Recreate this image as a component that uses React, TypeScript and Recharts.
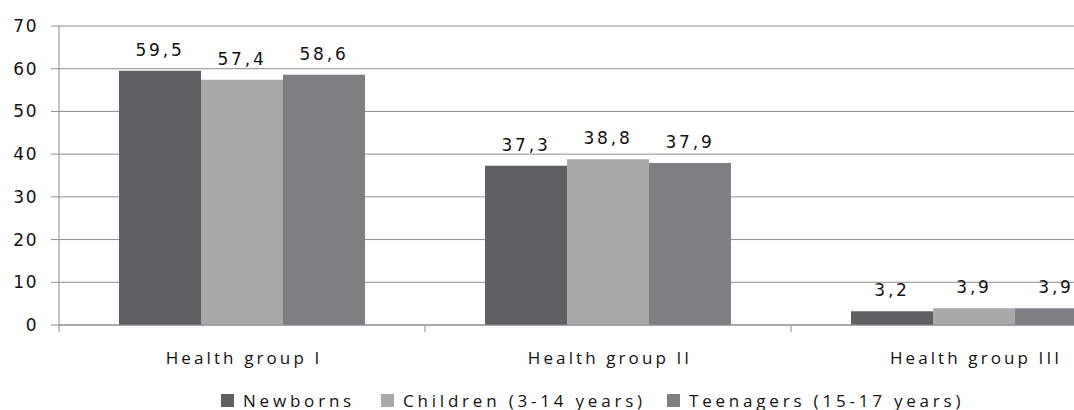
import React from "react";
import { BarChart, Bar, XAxis, YAxis, CartesianGrid, Legend, LabelList } from "recharts";

const categories = ["Health group I", "Health group II", "Health group III"];
const newborns = [59.5, 37.3, 3.2];
const children = [57.4, 38.8, 3.9];
const teenagers = [58.6, 37.9, 3.9];
const yTicks = [0, 10, 20, 30, 40, 50, 60, 70];

const seriesNames = ["Newborns", "Children (3-14 years)", "Teenagers (15-17 years)"];
const seriesColors = ["#5f6064", "#a8a9ab", "#7e7f83"];

const data = categories.map((c, i) => ({
  name: c,
  newborns: newborns[i],
  children: children[i],
  teenagers: teenagers[i],
}));

const valueFont = "'DejaVu Sans', Verdana, sans-serif";
const textFont = "'Open Sans', 'Liberation Sans', sans-serif";

const fmt = (v: number) => String(v).replace(".", ",");

const CategoryTick = (props: any) => {
  const { x, y, payload } = props;
  const off = payload.offset || 0;
  return (
    <g>
      <line x1={x - off} x2={x - off} y1={y} y2={y + 7} stroke="#8c8c8c" strokeWidth={1} />
      {payload.index === categories.length - 1 && (
        <line x1={x + off} x2={x + off} y1={y} y2={y + 7} stroke="#8c8c8c" strokeWidth={1} />
      )}
      <text
        x={x + 2}
        y={y + 39}
        textAnchor="middle"
        fill="#111"
        style={{ fontFamily: textFont, fontSize: 17, letterSpacing: 3.1 }}
      >
        {payload.value}
      </text>
    </g>
  );
};

const LegendContent = () => (
  <div style={{ position: "relative", height: 20, width: 1074 }}>
    {seriesNames.map((n, i) => {
      const lefts = [221, 381, 667];
      return (
        <div
          key={n}
          style={{
            position: "absolute",
            left: lefts[i],
            top: 0,
            display: "flex",
            alignItems: "center",
            height: 20,
            whiteSpace: "nowrap",
          }}
        >
          <span style={{ display: "inline-block", width: 13, height: 13, background: seriesColors[i], marginRight: 9 }} />
          <span style={{ fontFamily: textFont, fontSize: 17, letterSpacing: 3.8, color: "#111" }}>{n}</span>
        </div>
      );
    })}
  </div>
);

export default function App() {
  const keys = ["newborns", "children", "teenagers"];
  return (
    <div style={{ position: "absolute", left: 0, top: 0, width: 1074, height: 410, overflow: "hidden", background: "#fff" }}>
      <BarChart
        width={1180}
        height={410}
        data={data}
        margin={{ top: 26, right: 23, left: 0, bottom: 0 }}
        barCategoryGap={60}
        barGap={0}
      >
        <CartesianGrid vertical={false} stroke="#8c8c8c" strokeWidth={1} />
        <YAxis
          domain={[0, 70]}
          ticks={yTicks}
          interval={0}
          width={59}
          tickSize={8}
          tickMargin={13}
          axisLine={{ stroke: "#8c8c8c" }}
          tickLine={{ stroke: "#8c8c8c" }}
          tick={{ fill: "#111", fontFamily: valueFont, fontSize: 17, letterSpacing: 1.5 }}
        />
        <XAxis
          dataKey="name"
          height={65}
          tickSize={0}
          tickMargin={0}
          tickLine={false}
          axisLine={{ stroke: "#8c8c8c" }}
          interval={0}
          tick={<CategoryTick />}
        />
        <Legend
          verticalAlign="bottom"
          height={20}
          content={<LegendContent />}
          wrapperStyle={{ left: 0, width: 1074 }}
        />
        {keys.map((k, i) => (
          <Bar key={k} dataKey={k} name={seriesNames[i]} fill={seriesColors[i]} isAnimationActive={false}>
            <LabelList
              dataKey={k}
              position="top"
              offset={15}
              formatter={(v: any) => fmt(v)}
              style={{ fill: "#111", fontFamily: valueFont, fontSize: 17, letterSpacing: 2.8 }}
            />
          </Bar>
        ))}
      </BarChart>
    </div>
  );
}
